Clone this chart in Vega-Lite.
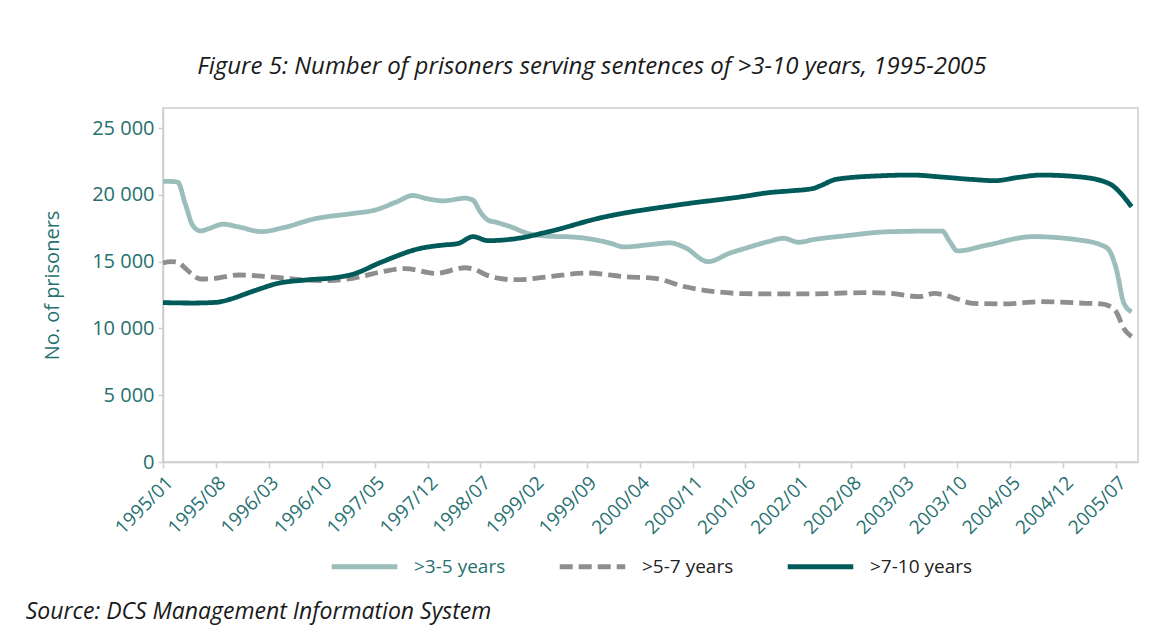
{
  "$schema": "https://vega.github.io/schema/vega-lite/v6.json",
  "background": "white",
  "padding": {"left": 25, "top": 54, "right": 0, "bottom": 10},
  "title": {
    "text": "Source: DCS Management Information System",
    "orient": "bottom",
    "anchor": "start",
    "frame": "bounds",
    "font": "Open Sans",
    "fontSize": 23,
    "fontStyle": "italic",
    "fontWeight": "normal",
    "color": "#1a1a1a",
    "offset": 24,
    "dx": -16
  },
  "config": {
    "font": "Open Sans",
    "view": {"stroke": "#d9d9d9", "strokeWidth": 2},
    "axis": {
      "labelFont": "Open Sans",
      "titleFont": "Open Sans",
      "labelColor": "#26706f",
      "titleColor": "#26706f",
      "domainColor": "#cfcfcf",
      "tickColor": "#cfcfcf",
      "domainWidth": 1.5,
      "tickWidth": 1.5,
      "grid": false
    },
    "legend": {
      "labelFont": "Open Sans",
      "layout": {"bottom": {"anchor": "middle"}}
    }
  },
  "vconcat": [
    {
      "width": 975,
      "height": 354,
      "title": {
        "text": "Figure 5: Number of prisoners serving sentences of >3-10 years, 1995-2005",
        "font": "Open Sans",
        "fontSize": 24,
        "fontStyle": "italic",
        "fontWeight": "normal",
        "color": "#1a1a1a",
        "anchor": "middle",
        "frame": "bounds",
        "offset": 29
      },
      "data": {
        "values": [
          {"m": "1995-01-01", "s": ">3-5 years", "v": 21000},
          {"m": "1995-02-01", "s": ">3-5 years", "v": 21000},
          {"m": "1995-03-01", "s": ">3-5 years", "v": 20950},
          {"m": "1995-04-01", "s": ">3-5 years", "v": 19300},
          {"m": "1995-05-01", "s": ">3-5 years", "v": 17700},
          {"m": "1995-06-01", "s": ">3-5 years", "v": 17300},
          {"m": "1995-07-01", "s": ">3-5 years", "v": 17450},
          {"m": "1995-09-01", "s": ">3-5 years", "v": 17800},
          {"m": "1995-11-01", "s": ">3-5 years", "v": 17600},
          {"m": "1996-02-01", "s": ">3-5 years", "v": 17250},
          {"m": "1996-05-01", "s": ">3-5 years", "v": 17550},
          {"m": "1996-09-01", "s": ">3-5 years", "v": 18200},
          {"m": "1997-02-01", "s": ">3-5 years", "v": 18600},
          {"m": "1997-05-01", "s": ">3-5 years", "v": 18850},
          {"m": "1997-08-01", "s": ">3-5 years", "v": 19500},
          {"m": "1997-10-01", "s": ">3-5 years", "v": 19950},
          {"m": "1997-12-01", "s": ">3-5 years", "v": 19700},
          {"m": "1998-02-01", "s": ">3-5 years", "v": 19550},
          {"m": "1998-05-01", "s": ">3-5 years", "v": 19750},
          {"m": "1998-06-01", "s": ">3-5 years", "v": 19600},
          {"m": "1998-07-01", "s": ">3-5 years", "v": 18700},
          {"m": "1998-08-01", "s": ">3-5 years", "v": 18100},
          {"m": "1998-09-01", "s": ">3-5 years", "v": 17950},
          {"m": "1998-11-01", "s": ">3-5 years", "v": 17600},
          {"m": "1999-01-01", "s": ">3-5 years", "v": 17150},
          {"m": "1999-04-01", "s": ">3-5 years", "v": 16900},
          {"m": "1999-07-01", "s": ">3-5 years", "v": 16850},
          {"m": "1999-10-01", "s": ">3-5 years", "v": 16650},
          {"m": "1999-12-01", "s": ">3-5 years", "v": 16400},
          {"m": "2000-02-01", "s": ">3-5 years", "v": 16100},
          {"m": "2000-05-01", "s": ">3-5 years", "v": 16250},
          {"m": "2000-08-01", "s": ">3-5 years", "v": 16400},
          {"m": "2000-10-01", "s": ">3-5 years", "v": 16050},
          {"m": "2001-01-01", "s": ">3-5 years", "v": 15000},
          {"m": "2001-04-01", "s": ">3-5 years", "v": 15650},
          {"m": "2001-06-01", "s": ">3-5 years", "v": 16000},
          {"m": "2001-09-01", "s": ">3-5 years", "v": 16500},
          {"m": "2001-11-01", "s": ">3-5 years", "v": 16750},
          {"m": "2002-01-01", "s": ">3-5 years", "v": 16450},
          {"m": "2002-03-01", "s": ">3-5 years", "v": 16650},
          {"m": "2002-07-01", "s": ">3-5 years", "v": 16920},
          {"m": "2003-01-01", "s": ">3-5 years", "v": 17240},
          {"m": "2003-08-01", "s": ">3-5 years", "v": 17290},
          {"m": "2003-09-01", "s": ">3-5 years", "v": 16500},
          {"m": "2003-10-01", "s": ">3-5 years", "v": 15800},
          {"m": "2004-02-01", "s": ">3-5 years", "v": 16250},
          {"m": "2004-08-01", "s": ">3-5 years", "v": 16870},
          {"m": "2005-02-01", "s": ">3-5 years", "v": 16620},
          {"m": "2005-05-01", "s": ">3-5 years", "v": 16250},
          {"m": "2005-06-01", "s": ">3-5 years", "v": 15900},
          {"m": "2005-07-01", "s": ">3-5 years", "v": 14500},
          {"m": "2005-08-01", "s": ">3-5 years", "v": 11900},
          {"m": "2005-09-01", "s": ">3-5 years", "v": 11250},

          {"m": "1995-01-01", "s": ">5-7 years", "v": 14900},
          {"m": "1995-02-01", "s": ">5-7 years", "v": 15000},
          {"m": "1995-03-01", "s": ">5-7 years", "v": 14950},
          {"m": "1995-04-01", "s": ">5-7 years", "v": 14500},
          {"m": "1995-05-01", "s": ">5-7 years", "v": 14000},
          {"m": "1995-06-01", "s": ">5-7 years", "v": 13700},
          {"m": "1995-08-01", "s": ">5-7 years", "v": 13750},
          {"m": "1995-11-01", "s": ">5-7 years", "v": 14000},
          {"m": "1996-03-01", "s": ">5-7 years", "v": 13870},
          {"m": "1996-08-01", "s": ">5-7 years", "v": 13620},
          {"m": "1996-11-01", "s": ">5-7 years", "v": 13580},
          {"m": "1997-02-01", "s": ">5-7 years", "v": 13750},
          {"m": "1997-06-01", "s": ">5-7 years", "v": 14250},
          {"m": "1997-09-01", "s": ">5-7 years", "v": 14480},
          {"m": "1998-01-01", "s": ">5-7 years", "v": 14120},
          {"m": "1998-05-01", "s": ">5-7 years", "v": 14540},
          {"m": "1998-06-01", "s": ">5-7 years", "v": 14450},
          {"m": "1998-08-01", "s": ">5-7 years", "v": 13950},
          {"m": "1998-10-01", "s": ">5-7 years", "v": 13700},
          {"m": "1998-12-01", "s": ">5-7 years", "v": 13650},
          {"m": "1999-04-01", "s": ">5-7 years", "v": 13870},
          {"m": "1999-09-01", "s": ">5-7 years", "v": 14150},
          {"m": "2000-02-01", "s": ">5-7 years", "v": 13870},
          {"m": "2000-06-01", "s": ">5-7 years", "v": 13750},
          {"m": "2000-10-01", "s": ">5-7 years", "v": 13120},
          {"m": "2001-02-01", "s": ">5-7 years", "v": 12750},
          {"m": "2001-06-01", "s": ">5-7 years", "v": 12600},
          {"m": "2002-02-01", "s": ">5-7 years", "v": 12580},
          {"m": "2002-10-01", "s": ">5-7 years", "v": 12680},
          {"m": "2003-01-01", "s": ">5-7 years", "v": 12630},
          {"m": "2003-05-01", "s": ">5-7 years", "v": 12380},
          {"m": "2003-07-01", "s": ">5-7 years", "v": 12620},
          {"m": "2003-08-01", "s": ">5-7 years", "v": 12550},
          {"m": "2003-10-01", "s": ">5-7 years", "v": 12200},
          {"m": "2003-12-01", "s": ">5-7 years", "v": 11880},
          {"m": "2004-04-01", "s": ">5-7 years", "v": 11830},
          {"m": "2004-09-01", "s": ">5-7 years", "v": 12000},
          {"m": "2005-03-01", "s": ">5-7 years", "v": 11880},
          {"m": "2005-05-01", "s": ">5-7 years", "v": 11830},
          {"m": "2005-06-01", "s": ">5-7 years", "v": 11700},
          {"m": "2005-07-01", "s": ">5-7 years", "v": 11250},
          {"m": "2005-08-01", "s": ">5-7 years", "v": 10000},
          {"m": "2005-09-01", "s": ">5-7 years", "v": 9380},

          {"m": "1995-01-01", "s": ">7-10 years", "v": 11930},
          {"m": "1995-05-01", "s": ">7-10 years", "v": 11900},
          {"m": "1995-08-01", "s": ">7-10 years", "v": 11950},
          {"m": "1995-10-01", "s": ">7-10 years", "v": 12200},
          {"m": "1995-12-01", "s": ">7-10 years", "v": 12600},
          {"m": "1996-02-01", "s": ">7-10 years", "v": 13000},
          {"m": "1996-04-01", "s": ">7-10 years", "v": 13350},
          {"m": "1996-08-01", "s": ">7-10 years", "v": 13630},
          {"m": "1996-12-01", "s": ">7-10 years", "v": 13820},
          {"m": "1997-02-01", "s": ">7-10 years", "v": 14050},
          {"m": "1997-06-01", "s": ">7-10 years", "v": 14990},
          {"m": "1997-11-01", "s": ">7-10 years", "v": 15990},
          {"m": "1998-02-01", "s": ">7-10 years", "v": 16240},
          {"m": "1998-04-01", "s": ">7-10 years", "v": 16350},
          {"m": "1998-06-01", "s": ">7-10 years", "v": 16870},
          {"m": "1998-08-01", "s": ">7-10 years", "v": 16570},
          {"m": "1998-12-01", "s": ">7-10 years", "v": 16750},
          {"m": "1999-04-01", "s": ">7-10 years", "v": 17240},
          {"m": "1999-11-01", "s": ">7-10 years", "v": 18300},
          {"m": "2000-09-01", "s": ">7-10 years", "v": 19240},
          {"m": "2001-06-01", "s": ">7-10 years", "v": 19900},
          {"m": "2001-09-01", "s": ">7-10 years", "v": 20160},
          {"m": "2001-12-01", "s": ">7-10 years", "v": 20300},
          {"m": "2002-03-01", "s": ">7-10 years", "v": 20480},
          {"m": "2002-04-01", "s": ">7-10 years", "v": 20700},
          {"m": "2002-06-01", "s": ">7-10 years", "v": 21160},
          {"m": "2002-12-01", "s": ">7-10 years", "v": 21430},
          {"m": "2003-04-01", "s": ">7-10 years", "v": 21480},
          {"m": "2003-08-01", "s": ">7-10 years", "v": 21330},
          {"m": "2003-12-01", "s": ">7-10 years", "v": 21150},
          {"m": "2004-03-01", "s": ">7-10 years", "v": 21060},
          {"m": "2004-06-01", "s": ">7-10 years", "v": 21300},
          {"m": "2004-09-01", "s": ">7-10 years", "v": 21480},
          {"m": "2005-02-01", "s": ">7-10 years", "v": 21350},
          {"m": "2005-06-01", "s": ">7-10 years", "v": 20860},
          {"m": "2005-09-01", "s": ">7-10 years", "v": 19110}
        ]
      },
      "mark": {"type": "line", "interpolate": "monotone", "strokeWidth": 4.8, "strokeCap": "butt"},
      "encoding": {
        "x": {
          "field": "m",
          "type": "temporal",
          "timeUnit": "utcyearmonth",
          "scale": {
            "domain": [
              {"year": 1995, "month": 1, "date": 1, "utc": true},
              {"year": 2005, "month": 9, "date": 27, "utc": true}
            ]
          },
          "axis": {
            "title": null,
            "format": "%Y/%m",
            "labelAngle": -45,
            "labelFontSize": 19,
            "labelPadding": 5,
            "tickSize": 6,
            "labelOverlap": false,
            "values": [
              {"year": 1995, "month": 1, "utc": true},
              {"year": 1995, "month": 8, "utc": true},
              {"year": 1996, "month": 3, "utc": true},
              {"year": 1996, "month": 10, "utc": true},
              {"year": 1997, "month": 5, "utc": true},
              {"year": 1997, "month": 12, "utc": true},
              {"year": 1998, "month": 7, "utc": true},
              {"year": 1999, "month": 2, "utc": true},
              {"year": 1999, "month": 9, "utc": true},
              {"year": 2000, "month": 4, "utc": true},
              {"year": 2000, "month": 11, "utc": true},
              {"year": 2001, "month": 6, "utc": true},
              {"year": 2002, "month": 1, "utc": true},
              {"year": 2002, "month": 8, "utc": true},
              {"year": 2003, "month": 3, "utc": true},
              {"year": 2003, "month": 10, "utc": true},
              {"year": 2004, "month": 5, "utc": true},
              {"year": 2004, "month": 12, "utc": true},
              {"year": 2005, "month": 7, "utc": true}
            ]
          }
        },
        "y": {
          "field": "v",
          "type": "quantitative",
          "scale": {"domain": [0, 26500], "nice": false, "zero": true},
          "axis": {
            "title": "No. of prisoners",
            "titleFontSize": 20,
            "titleFontWeight": "normal",
            "titlePadding": 29,
            "labelFontSize": 20,
            "labelPadding": 4,
            "tickSize": 5,
            "values": [0, 5000, 10000, 15000, 20000, 25000],
            "labelExpr": "replace(format(datum.value, ','), ',', ' ')"
          }
        },
        "color": {
          "field": "s",
          "type": "nominal",
          "scale": {
            "domain": [">3-5 years", ">5-7 years", ">7-10 years"],
            "range": ["#9bbdbb", "#8e8e8e", "#005a5a"]
          },
          "legend": {
            "title": null,
            "orient": "bottom",
            "direction": "horizontal",
            "symbolType": "stroke",
            "symbolSize": 4300,
            "symbolStrokeWidth": 5,
            "labelFontSize": 19,
            "labelColor": "#222222",
            "labelOffset": 14,
            "columnPadding": 43,
            "offset": -8,
            "encode": {
              "labels": {
                "update": {
                  "fill": {"signal": "datum.value == '>3-5 years' ? '#26706f' : '#222222'"}
                }
              }
            }
          }
        },
        "strokeDash": {
          "field": "s",
          "type": "nominal",
          "scale": {
            "domain": [">3-5 years", ">5-7 years", ">7-10 years"],
            "range": [[1, 0], [13, 6], [1, 0]]
          },
          "legend": {
            "title": null,
            "orient": "bottom",
            "direction": "horizontal",
            "symbolType": "stroke",
            "symbolSize": 4300,
            "symbolStrokeWidth": 5,
            "labelFontSize": 19,
            "labelColor": "#222222",
            "labelOffset": 14,
            "columnPadding": 43,
            "offset": -8,
            "encode": {
              "labels": {
                "update": {
                  "fill": {"signal": "datum.value == '>3-5 years' ? '#26706f' : '#222222'"}
                }
              }
            }
          }
        }
      }
    }
  ]
}
